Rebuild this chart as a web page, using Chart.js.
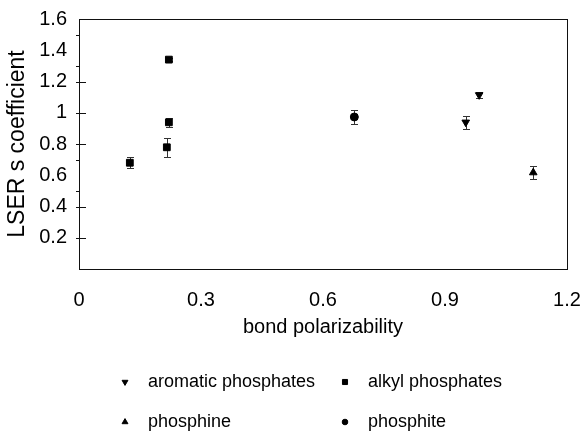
<!DOCTYPE html>
<html><head><meta charset="utf-8">
<script src="https://cdn.jsdelivr.net/npm/chart.js@4"></script>
<style>html,body{margin:0;padding:0;background:#fff;} canvas{display:block;}</style>
</head><body>
<canvas id="c" width="585" height="431"></canvas>
<script>
const seriesNames = ['aromatic phosphates', 'alkyl phosphates', 'phosphine', 'phosphite'];
const aromaticX = [0.951, 0.984];
const aromaticY = [0.939, 1.114];
const aromaticErr = [0.040, 0.018];
const alkylX = [0.125, 0.216, 0.221, 0.221];
const alkylY = [0.680, 0.779, 0.939, 1.340];
const alkylErr = [0.034, 0.060, 0.030, 0.010];
const phosphineX = [1.117];
const phosphineY = [0.617];
const phosphineErr = [0.040];
const phosphiteX = [0.677];
const phosphiteY = [0.973];
const phosphiteErr = [0.042];
const xTickValues = [0, 0.3, 0.6, 0.9, 1.2];
const xTickLabels = ['0', '0.3', '0.6', '0.9', '1.2'];
const yTickValues = [0.2, 0.4, 0.6, 0.8, 1.0, 1.2, 1.4, 1.6];
const yTickLabels = ['0.2', '0.4', '0.6', '0.8', '1', '1.2', '1.4', '1.6'];
const yCrossTicks = [0.2, 0.4, 0.8, 1.0, 1.2];
const yOuterTicks = [0.5, 0.7, 1.3, 1.5];

const FONT = "'Liberation Sans', Arial, sans-serif";
const pts = (xs, ys) => xs.map((x, i) => ({x: x, y: ys[i]}));
const errs = [aromaticErr, alkylErr, phosphineErr, phosphiteErr];

const frameAndErrors = {
  id: 'frameAndErrors',
  beforeDatasetsDraw(chart) {
    const ctx = chart.ctx, ys = chart.scales.y;
    ctx.save();
    ctx.strokeStyle = '#333';
    ctx.lineWidth = 1;
    chart.data.datasets.forEach((ds, di) => {
      const meta = chart.getDatasetMeta(di);
      meta.data.forEach((el, j) => {
        const e = errs[di][j];
        const v = ds.data[j].y;
        const x = Math.round(el.x) + 0.5;
        const y1 = Math.round(ys.getPixelForValue(v + e)) + 0.5;
        const y2 = Math.round(ys.getPixelForValue(v - e)) + 0.5;
        ctx.beginPath();
        ctx.moveTo(x, y1); ctx.lineTo(x, y2);
        ctx.moveTo(x - 3.5, y1); ctx.lineTo(x + 3.5, y1);
        ctx.moveTo(x - 3.5, y2); ctx.lineTo(x + 3.5, y2);
        ctx.stroke();
      });
    });
    ctx.restore();
  },
  afterDraw(chart) {
    const ctx = chart.ctx, a = chart.chartArea, ys = chart.scales.y;
    ctx.save();
    ctx.strokeStyle = '#111';
    ctx.lineWidth = 1;
    ctx.strokeRect(Math.round(a.left) + 0.5, Math.round(a.top) + 0.5,
                   Math.round(a.right - a.left), Math.round(a.bottom - a.top));
    ctx.beginPath();
    yCrossTicks.forEach(v => {
      const y = Math.round(ys.getPixelForValue(v)) + 0.5;
      ctx.moveTo(a.left - 3, y); ctx.lineTo(a.left + 7, y);
    });
    yOuterTicks.forEach(v => {
      const y = Math.round(ys.getPixelForValue(v)) + 0.5;
      ctx.moveTo(a.left - 3, y); ctx.lineTo(a.left, y);
    });
    ctx.stroke();

    // legend
    const cols = [125, 345], rows = [382, 422];
    const textOff = 23;
    ctx.font = '18px ' + FONT;
    ctx.textBaseline = 'middle';
    ctx.textAlign = 'left';
    chart.data.datasets.forEach((ds, i) => {
      const cx = cols[i % 2], cy = rows[Math.floor(i / 2)];
      ctx.fillStyle = '#000';
      ctx.strokeStyle = '#000';
      ctx.lineWidth = 1;
      Chart.helpers.drawPoint(ctx, {
        pointStyle: ds.pointStyle,
        rotation: ds.pointRotation || 0,
        radius: ds.pointStyle === 'circle' ? 2.8 : (ds.pointStyle === 'rect' ? 3.6 : 3.4),
        borderWidth: 1
      }, cx, cy);
      ctx.fillText(ds.label, cx + textOff, cy);
    });
    ctx.restore();
  }
};

const common = {backgroundColor: '#000', borderColor: '#000', pointBorderWidth: 1, showLine: false};
const hiddenGrid = len => ({display: true, drawOnChartArea: false, drawTicks: true, tickLength: len, color: 'rgba(0,0,0,0)'});

new Chart(document.getElementById('c'), {
  type: 'scatter',
  data: {
    datasets: [
      Object.assign({label: seriesNames[0], data: pts(aromaticX, aromaticY), pointStyle: 'triangle', pointRotation: 180, pointRadius: 4.4}, common),
      Object.assign({label: seriesNames[1], data: pts(alkylX, alkylY), pointStyle: 'rect', pointRadius: 4.8}, common),
      Object.assign({label: seriesNames[2], data: pts(phosphineX, phosphineY), pointStyle: 'triangle', pointRotation: 0, pointRadius: 4.4}, common),
      Object.assign({label: seriesNames[3], data: pts(phosphiteX, phosphiteY), pointStyle: 'circle', pointRadius: 4}, common)
    ]
  },
  options: {
    responsive: false,
    animation: false,
    events: [],
    layout: {padding: {top: 19, right: 18, left: 0, bottom: 0}},
    plugins: {legend: {display: false}, tooltip: {enabled: false}},
    scales: {
      x: {
        type: 'linear', min: 0, max: 1.2,
        afterBuildTicks: s => { s.ticks = xTickValues.map(v => ({value: v})); },
        afterFit: s => { s.height = 162; },
        grid: hiddenGrid(19),
        border: {display: false},
        ticks: {
          padding: 0, maxRotation: 0, autoSkip: false, color: '#000',
          font: {family: FONT, size: 20},
          callback: v => xTickLabels[xTickValues.indexOf(v)]
        },
        title: {display: true, text: 'bond polarizability', color: '#000',
                font: {family: FONT, size: 20}, padding: {top: 0, bottom: 92}}
      },
      y: {
        type: 'linear', min: 0, max: 1.6,
        afterBuildTicks: s => { s.ticks = yTickValues.map(v => ({value: v})); },
        afterFit: s => { s.width = 79; },
        grid: hiddenGrid(12),
        border: {display: false},
        ticks: {
          padding: 0, autoSkip: false, color: '#000',
          font: {family: FONT, size: 20},
          callback: v => yTickLabels[yTickValues.indexOf(v)]
        },
        title: {display: true, text: 'LSER s coefficient', color: '#000',
                font: {family: FONT, size: 23}, padding: {top: 4, bottom: 0}}
      }
    }
  },
  plugins: [frameAndErrors]
});
</script>
</body></html>
